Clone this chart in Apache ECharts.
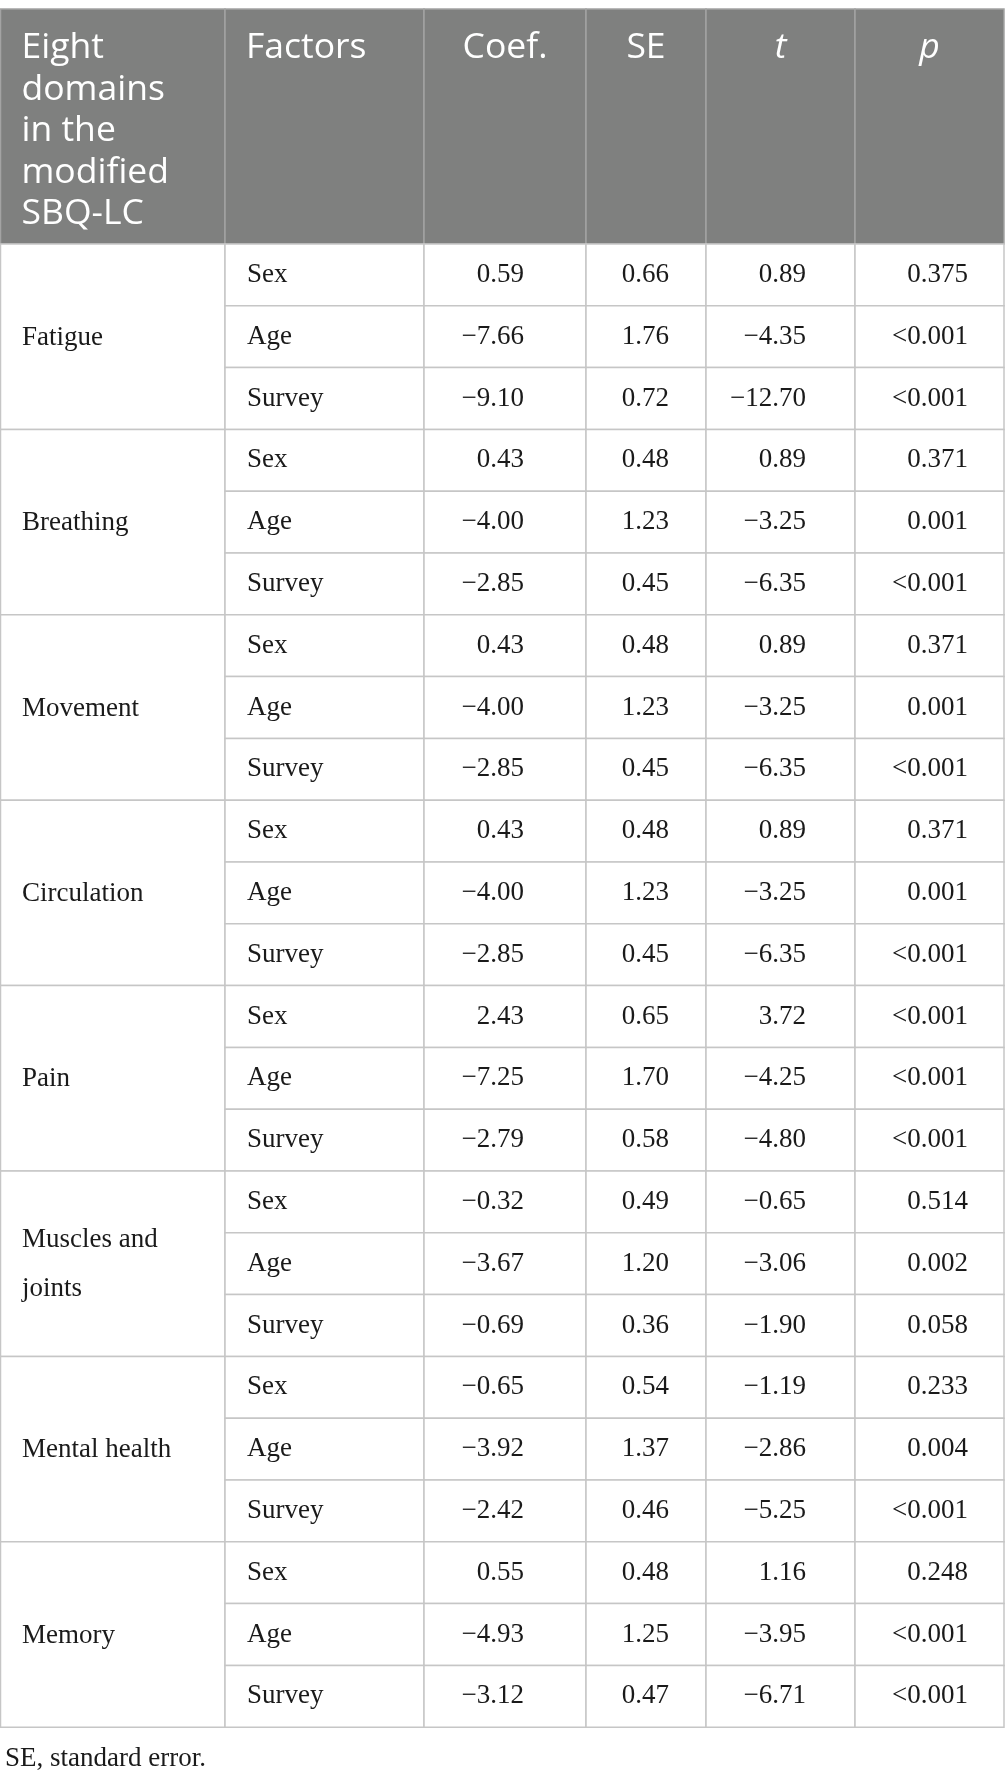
<!DOCTYPE html>
<html>
<head>
<meta charset="utf-8">
<script src="https://cdn.jsdelivr.net/npm/echarts@6/dist/echarts.min.js"></script>
<style>
  html, body { margin: 0; padding: 0; background: #fff; }
  #table_chart { width: 1005px; height: 1785px; }
</style>
</head>
<body>
<div id="table_chart"></div>
<script>
// table content
var headers = ['Eight\ndomains\nin the\nmodified\nSBQ-LC', 'Factors', 'Coef.', 'SE', 't', 'p'];
var domains = ['Fatigue', 'Breathing', 'Movement', 'Circulation', 'Pain', 'Muscles and\njoints', 'Mental health', 'Memory'];
var factors = ['Sex', 'Age', 'Survey'];
var coef = [0.59, -7.66, -9.10, 0.43, -4.00, -2.85, 0.43, -4.00, -2.85, 0.43, -4.00, -2.85,
            2.43, -7.25, -2.79, -0.32, -3.67, -0.69, -0.65, -3.92, -2.42, 0.55, -4.93, -3.12];
var se = [0.66, 1.76, 0.72, 0.48, 1.23, 0.45, 0.48, 1.23, 0.45, 0.48, 1.23, 0.45,
          0.65, 1.70, 0.58, 0.49, 1.20, 0.36, 0.54, 1.37, 0.46, 0.48, 1.25, 0.47];
var tval = [0.89, -4.35, -12.70, 0.89, -3.25, -6.35, 0.89, -3.25, -6.35, 0.89, -3.25, -6.35,
            3.72, -4.25, -4.80, -0.65, -3.06, -1.90, -1.19, -2.86, -5.25, 1.16, -3.95, -6.71];
var pval = ['0.375', '<0.001', '<0.001', '0.371', '0.001', '<0.001', '0.371', '0.001', '<0.001',
            '0.371', '0.001', '<0.001', '<0.001', '<0.001', '<0.001', '0.514', '0.002', '0.058',
            '0.233', '0.004', '<0.001', '0.248', '<0.001', '<0.001'];
var footnote = 'SE, standard error.';

// layout
var colEdges = [0.5, 225, 424, 586, 706, 855, 1004];
var rightPad = [0, 0, 62, 37, 49, 36];
var tableTop = 9, headBottom = 244, rowH = 61.8;
var gridColor = '#c6c6c6', headFill = '#7f807f', headLine = '#a3a3a3';
var serif = '"Liberation Serif", "DejaVu Serif", serif';
var sans = '"Open Sans", "Noto Sans", sans-serif';

function fmt(v) {
    return v.toFixed(2).replace('-', '\u2212');
}
function cellRect(api, c0, c1, y0, y1) {
    var p0 = api.coord([colEdges[c0], y0]);
    var p1 = api.coord([colEdges[c1], y1]);
    return { x: p0[0], y: p0[1], width: p1[0] - p0[0], height: p1[1] - p0[1] };
}

var rows = [];
for (var i = 0; i < coef.length; i++) {
    rows.push([factors[i % 3], fmt(coef[i]), fmt(se[i]), fmt(tval[i]), pval[i]]);
}

var chart = echarts.init(document.getElementById('table_chart'));
var option = {
    animation: false,
    title: {
        text: footnote,
        left: 0,
        top: 1740,
        textStyle: { fontFamily: serif, fontSize: 27, fontWeight: 'normal', color: '#1a1a1a' }
    },
    grid: { left: 0, right: 0, top: 0, bottom: 0 },
    xAxis: { type: 'value', min: 0, max: 1005, show: false },
    yAxis: { type: 'value', min: 0, max: 1785, inverse: true, show: false },
    series: [
        {
            name: 'header',
            type: 'custom',
            clip: false,
            data: headers.map(function (h, j) { return [j]; }),
            renderItem: function (params, api) {
                var j = params.dataIndex;
                var r = cellRect(api, j, j + 1, tableTop, headBottom);
                var italic = (j >= 4);
                var tx = j < 2 ? r.x + 21 : r.x + r.width / 2;
                return {
                    type: 'group',
                    children: [
                        { type: 'rect', shape: r, style: { fill: headFill, stroke: headLine, lineWidth: 1.5 } },
                        {
                            type: 'text', x: tx, y: r.y + 18.5,
                            style: {
                                text: headers[j], fill: '#fff',
                                fontFamily: sans, fontSize: 35.5, lineHeight: 41.5,
                                fontStyle: italic ? 'italic' : 'normal',
                                align: j < 2 ? 'left' : 'center', verticalAlign: 'top'
                            }
                        }
                    ]
                };
            }
        },
        {
            name: 'domains',
            type: 'custom',
            clip: false,
            data: domains.map(function (d, k) { return [k]; }),
            renderItem: function (params, api) {
                var k = params.dataIndex;
                var y0 = headBottom + k * 3 * rowH;
                var r = cellRect(api, 0, 1, y0, y0 + 3 * rowH);
                return {
                    type: 'group',
                    children: [
                        { type: 'rect', shape: r, style: { fill: '#fff', stroke: gridColor, lineWidth: 1.5 } },
                        {
                            type: 'text', x: r.x + 21.5, y: r.y + r.height / 2 + 1,
                            style: {
                                text: domains[k], fill: '#1a1a1a',
                                fontFamily: serif, fontSize: 27, lineHeight: 49,
                                align: 'left', verticalAlign: 'middle'
                            }
                        }
                    ]
                };
            }
        },
        {
            name: 'rows',
            type: 'custom',
            clip: false,
            data: rows.map(function (row, i) { return [i]; }),
            renderItem: function (params, api) {
                var i = params.dataIndex;
                var y0 = headBottom + i * rowH;
                var children = [];
                for (var c = 1; c <= 5; c++) {
                    var r = cellRect(api, c, c + 1, y0, y0 + rowH);
                    children.push({ type: 'rect', shape: r, style: { fill: '#fff', stroke: gridColor, lineWidth: 1.5 } });
                    children.push({
                        type: 'text',
                        x: c === 1 ? r.x + 22 : r.x + r.width - rightPad[c],
                        y: r.y + r.height / 2,
                        style: {
                            text: rows[i][c - 1], fill: '#1a1a1a',
                            fontFamily: serif, fontSize: 27,
                            align: c === 1 ? 'left' : 'right', verticalAlign: 'middle'
                        }
                    });
                }
                return { type: 'group', children: children };
            }
        }
    ]
};
chart.setOption(option);

window.onresize = chart.resize;
</script>
</body>
</html>
